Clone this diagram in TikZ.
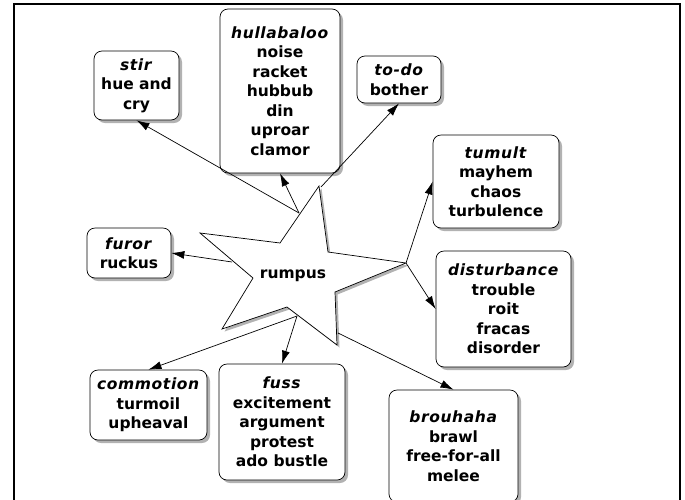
\documentclass[tikz,border=0pt]{standalone}
\usepackage{fontspec}
\setmainfont{DejaVu Sans}
\usetikzlibrary{arrows.meta,shadows}

\tikzset{
  word/.style={draw=black, fill=white, rounded corners=8pt, align=center,
    inner sep=0pt, line width=0.7pt,
    font=\fontsize{15.5}{19.5}\selectfont\bfseries,
    drop shadow={shadow xshift=3pt, shadow yshift=-3pt, fill=gray!60, opacity=1}},
  link/.style={-{Latex[length=13pt,width=8pt]}, line width=0.7pt},
}
\newcommand{\hd}[1]{{\addfontfeature{LetterSpace=4}\textit{#1}}}

\begin{document}
\begin{tikzpicture}[x=1pt, y=-1pt]
            \useasboundingbox (0,0) rectangle (685,499);
            \clip (0,0) rectangle (685,499);
            % Frame
            \draw[line width=1.3pt] (14,4) rectangle (680,530);

            % Star
            \fill[gray!60, shift={(2.5,2.5)}] (319,186) -- (328,252) -- (406,263) -- (335,292) -- (337,345)
                -- (287,307) -- (222,329) -- (253,278) -- (200,233) -- (280,243) -- cycle;
            \draw[fill=white, line width=0.7pt] (319,186) -- (328,252) -- (406,263) -- (335,292) -- (337,345)
                -- (287,307) -- (222,329) -- (253,278) -- (200,233) -- (280,243) -- cycle;
            \node[font=\fontsize{15.5}{19.5}\selectfont\bfseries] (rumpus) at (293,276) {rumpus};
            \coordinate (p-top) at (299,213);
            \coordinate (p-apex) at (321,187);
            \coordinate (p-right) at (406,263);
            \coordinate (p-left) at (232,262);
            \coordinate (p-bottom) at (297,316);
            \coordinate (p-lower) at (338,333);

            % Boxes
            \node[word, minimum width=85pt, minimum height=69pt] (stir) at (136.5,85.5) {\hd{stir}\\hue and\\cry};
            \node[word, minimum width=120pt, minimum height=164pt] (hull) at (280,91) {\hd{hullabaloo}\\noise\\racket\\hubbub\\din\\uproar\\clamor};
            \node[word, minimum width=84pt, minimum height=47pt] (todo) at (399,79.5) {\hd{to-do}\\bother};
            \node[word, minimum width=126pt, minimum height=93pt] (tumult) at (496,181.5) {\hd{tumult}\\mayhem\\chaos\\turbulence};
            \node[word, minimum width=84pt, minimum height=50pt] (furor) at (129,253) {\hd{furor}\\ruckus};
            \node[word, minimum width=135pt, minimum height=116pt] (disturb) at (503.5,309) {\hd{disturbance}\\trouble\\roit\\fracas\\disorder};
            \node[word, minimum width=117pt, minimum height=70pt] (commotion) at (148.5,405) {\hd{commotion}\\turmoil\\upheaval};
            \node[word, minimum width=126pt, minimum height=116pt] (fuss) at (282,422) {\hd{fuss}\\excitement\\argument\\protest\\ado bustle};
            \node[word, minimum width=129pt, minimum height=112pt] (brouhaha) at (453.5,446) {\hd{brouhaha}\\brawl\\free-for-all\\melee};

            % Arrows
            \draw[link] (p-top) -- (stir.south);
            \draw[link] (p-top) -- (hull.south);
            \draw[link] (p-apex) -- (todo.south);
            \draw[link] (p-right) -- (tumult.west);
            \draw[link] (p-right) -- (disturb.west);
            \draw[link] (p-left) -- (furor.east);
            \draw[link] (p-bottom) -- (commotion.north);
            \draw[link] (p-bottom) -- (fuss.north);
            \draw[link] (p-lower) -- (brouhaha.north);
\end{tikzpicture}
\end{document}
